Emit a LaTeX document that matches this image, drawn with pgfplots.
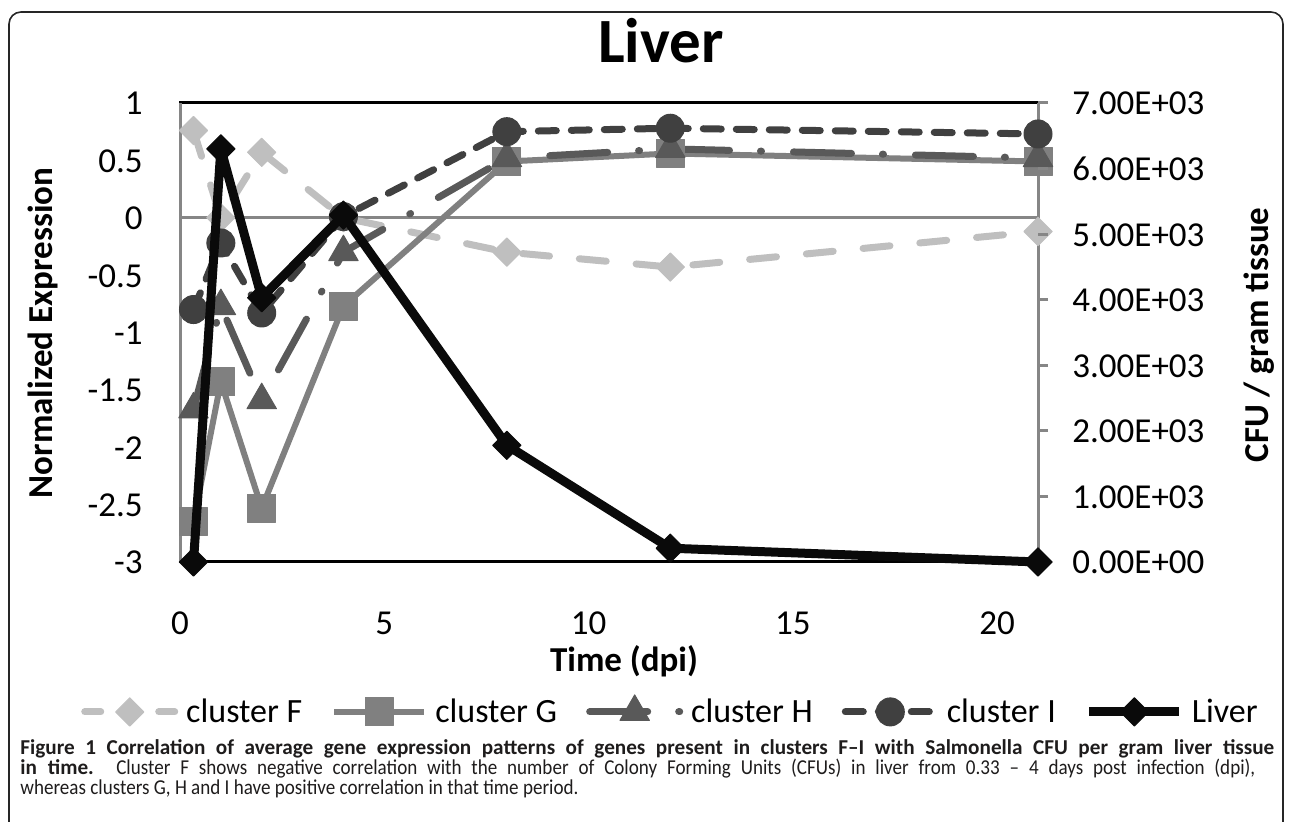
\documentclass[border=0pt]{standalone}
\usepackage{pgfplots}
\pgfplotsset{compat=1.18}
\usepackage{fontspec}
\setmainfont{Carlito}
\newfontfamily\capfam{Carlito}[FakeStretch=0.9]
\definecolor{cF}{RGB}{191,191,191}
\definecolor{cG}{RGB}{128,128,128}
\definecolor{cH}{RGB}{89,89,89}
\definecolor{cI}{RGB}{64,64,64}
\definecolor{cL}{RGB}{10,10,10}
\definecolor{axgray}{RGB}{134,134,134}
\definecolor{captext}{RGB}{30,28,28}
\newcommand\tickfont{\fontsize{17.5}{21}\selectfont}
\newcommand\labfont{\bfseries\fontsize{17.5}{21}\selectfont}
\newcommand\capfont{\capfam\fontsize{10.6}{12.5}\selectfont\color{captext}}
\newcommand\capbold{\normalfont\bfseries\fontsize{10.6}{12.5}\selectfont\color{captext}}
\begin{document}
\begin{tikzpicture}[x=1pt,y=1pt]
\useasboundingbox (0,0) rectangle (645,411);
\draw[line width=0.8pt, rounded corners=6pt, black!85] (4.5,-10) -- (4.5,405) -- (641.5,405) -- (641.5,-10);

\begin{axis}[
  at={(90pt,130pt)}, anchor=south west,
  scale only axis, width=429pt, height=229.5pt,
  clip=false,
  xmin=0, xmax=21, ymin=-3, ymax=1,
  xtick={0,5,10,15,20}, xticklabels={0,5,10,15,20},
  ytick={-3,-2.5,-2,-1.5,-1,-0.5,0,0.5,1},
  yticklabels={-3,-2.5,-2,-1.5,-1,-0.5,0,0.5,1},
  tick label style={font=\tickfont, inner sep=0pt, text height=11.5pt, text depth=0pt},
  major tick length=0pt, tick style={draw=none},
  yticklabel style={xshift=-18.5pt, yshift=-0.2pt},
  xticklabel style={yshift=-24.5pt},
  axis line style={black, line width=1.5pt},
  extra y ticks={0}, extra y tick labels={},
  extra y tick style={grid=major, major grid style={axgray, line width=1.5pt}},
  title={Liver},
  title style={font=\bfseries\fontsize{31.5}{36}\selectfont, at={(axis description cs:0.5606,1.1089)}, anchor=center, inner sep=0pt},
  ylabel={Normalized Expression},
  ylabel style={font=\labfont, at={(axis description cs:-0.1597,0.4989)}, anchor=center, inner sep=0pt},
  xlabel={Time (dpi)},
  xlabel style={font=\labfont, at={(axis description cs:0.5175,-0.2157)}, anchor=center, inner sep=0pt},
  legend columns=5,
  legend style={at={(axis description cs:0.5705,-0.3235)}, anchor=center, draw=none, fill=none,
    font=\fontsize{17}{20}\selectfont, inner sep=0pt, nodes={inner sep=0pt},
    /tikz/every odd column/.append style={column sep=4pt},
    /tikz/every even column/.append style={column sep=14.5pt}},
  legend image code/.code={\draw[mark repeat=2,mark phase=2] plot coordinates {(0pt,0pt) (22.5pt,0pt) (45pt,0pt)};},
]
\draw[axgray, line width=1.5pt] (rel axis cs:0,0) -- (rel axis cs:0,1);
\draw[axgray, line width=1.5pt] (rel axis cs:1,0) -- (rel axis cs:1,1);
\addplot[cF, line width=3.5pt, line cap=round, line join=round, dash pattern=on 13.5pt off 15pt,
  mark=square*, mark size=5pt, mark options={rotate=45, solid, fill=cF, draw=cF, line width=0.5pt},
  legend image code/.code={\draw[mark repeat=2,mark phase=2, dash pattern=on 8pt off 29pt on 8pt off 20pt] plot coordinates {(0pt,0pt) (22.5pt,0pt) (45pt,0pt)};}]
  coordinates {(0.33,0.76) (1,0.0) (2,0.57) (4,0.0) (8,-0.30) (12,-0.43) (21,-0.12)};
\addlegendentry{cluster F}
\addplot[cG, line width=3pt, line join=round,
  mark=square*, mark size=7pt, mark options={solid, fill=cG, draw=cG, line width=0.5pt}]
  coordinates {(0.33,-2.65) (1,-1.43) (2,-2.53) (4,-0.77) (8,0.49) (12,0.56) (21,0.49)};
\addlegendentry{cluster G}
\addplot[cH, line width=3.5pt, line cap=round, line join=round, dash pattern=on 29pt off 15.5pt on 0.5pt off 16pt,
  mark=triangle*, mark size=8.5pt, mark options={solid, fill=cH, draw=cH, line width=0.5pt}]
  coordinates {(0.33,-1.67) (1,-0.77) (2,-1.59) (4,-0.30) (8,0.52) (12,0.60) (21,0.52)};
\addlegendentry{cluster H}
\addplot[cI, line width=3.5pt, line cap=round, line join=round, dash pattern=on 9pt off 7.5pt,
  mark=*, mark size=7pt, mark options={solid, fill=cI, draw=cI, line width=0.5pt}]
  coordinates {(0.33,-0.80) (1,-0.22) (2,-0.83) (4,0.01) (8,0.75) (12,0.78) (21,0.73)};
\addlegendentry{cluster I}
\addlegendimage{cL, line width=4.5pt, line join=round, mark=square*, mark size=5pt, mark options={rotate=45, solid, fill=cL, draw=cL, line width=0.5pt}}
\addlegendentry{Liver}
\end{axis}

\begin{axis}[
  at={(90pt,130pt)}, anchor=south west,
  scale only axis, width=429pt, height=229.5pt,
  clip=false,
  xmin=0, xmax=21, ymin=0, ymax=7000,
  hide x axis,
  axis y line*=right,
  y axis line style={draw=none},
  ytick={0,1000,2000,3000,4000,5000,6000,7000},
  yticklabels={0.00E+00,1.00E+03,2.00E+03,3.00E+03,4.00E+03,5.00E+03,6.00E+03,7.00E+03},
  tick align=outside, major tick length=5pt,
  ytick style={axgray, line width=1.5pt},
  yticklabel style={font=\tickfont, inner sep=0pt, text height=11.5pt, text depth=0pt, anchor=west, xshift=12pt, yshift=-0.2pt},
  ylabel={CFU / gram tissue},
  ylabel style={font=\labfont, at={(axis description cs:1.2576,0.4946)}, anchor=center, inner sep=0pt},
]
\addplot[cL, line width=4.5pt, line join=round,
  mark=square*, mark size=5pt, mark options={rotate=45, solid, fill=cL, draw=cL, line width=0.5pt}]
  coordinates {(0.33,0) (1,6300) (2,4030) (4,5290) (8,1780) (12,210) (21,0)};
\end{axis}

\node[anchor=base west, inner sep=0pt] at (10,33.5) {\capbold\makebox[627pt][s]{Figure 1 Correlation of average gene expression patterns of genes present in clusters F–I with Salmonella CFU per gram liver tissue}};
\node[anchor=base west, inner sep=0pt] at (10,23.5) {\capfont\makebox[617.5pt][s]{{\capbold in time.} Cluster F shows negative correlation with the number of Colony Forming Units (CFUs) in liver from 0.33 – 4 days post infection (dpi),}};
\node[anchor=base west, inner sep=0pt] at (10,13.5) {\capfont whereas clusters G, H and I have positive correlation in that time period.};
\end{tikzpicture}
\end{document}
